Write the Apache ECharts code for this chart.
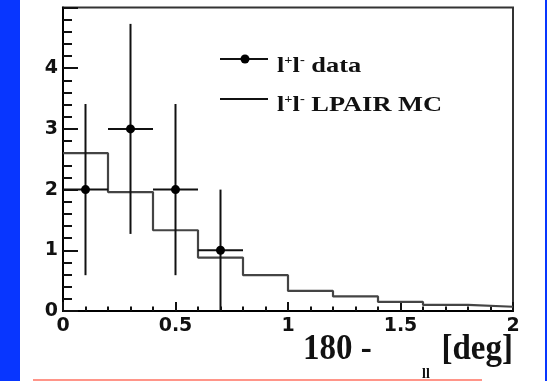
<!DOCTYPE html>
<html><head><meta charset="utf-8">
<script src="https://cdn.jsdelivr.net/npm/echarts@6/dist/echarts.min.js"></script>
<style>html,body{margin:0;padding:0;background:#fff}#c{width:547px;height:381px}</style>
</head><body><div id="c"></div>
<script>
// MC histogram (bin edges + contents)
const binEdges = [0, 0.2, 0.4, 0.6, 0.8, 1.0, 1.2, 1.4, 1.6, 1.8, 2.0];
const mcValues = [2.60, 1.96, 1.33, 0.88, 0.59, 0.33, 0.24, 0.15, 0.10, 0.07];
// data points
const dataX = [0.1, 0.3, 0.5, 0.7];
const dataY = [2, 3, 2, 1];
const dataXErr = [0.1, 0.1, 0.1, 0.1];
const dataYErr = [1.41, 1.73, 1.41, 1.0];
// axes
const xMin = 0, xMax = 2, xStep = 0.5;
const yMin = 0, yMax = 5, yStep = 1;
const legendLabels = ['data', 'LPAIR MC'];

const mcStep = mcValues.map((v, i) => [binEdges[i], v]);
mcStep.push([binEdges[binEdges.length - 1], mcValues[mcValues.length - 1]]);
const pts = dataX.map((x, i) => [x, dataY[i], dataXErr[i], dataYErr[i]]);

const serif = 'Liberation Serif';
const sans = 'DejaVu Sans';
const legRich = {
  m: {fontFamily: serif, fontWeight: 'bold', fontSize: 22, fill: '#111', verticalAlign: 'bottom'},
  s: {fontFamily: serif, fontWeight: 'bold', fontSize: 12, fill: '#111', verticalAlign: 'top'}
};
const chart = echarts.init(document.getElementById('c'), null, {renderer: 'canvas'});
chart.setOption({
  animation: false,
  backgroundColor: '#fff',
  grid: {left: 63, right: 34, top: 7.5, bottom: 70, show: true, borderColor: '#333', borderWidth: 2, backgroundColor: 'transparent'},
  xAxis: {
    type: 'value', min: xMin, max: xMax, interval: xStep,
    axisLine: {show: true, onZero: false, lineStyle: {color: '#000', width: 2}},
    axisTick: {show: true, inside: true, length: 9, lineStyle: {color: '#111', width: 2}},
    minorTick: {show: true, splitNumber: 5, length: 4.5, lineStyle: {color: '#111', width: 2}},
    splitLine: {show: false},
    axisLabel: {margin: 6, color: '#111', fontFamily: sans, fontWeight: 'bold', fontSize: 19}
  },
  yAxis: {
    type: 'value', min: yMin, max: yMax, interval: yStep,
    axisLine: {show: true, onZero: false, lineStyle: {color: '#000', width: 2}},
    axisTick: {show: true, inside: true, length: 15, lineStyle: {color: '#111', width: 2}},
    minorTick: {show: true, splitNumber: 5, length: 9, lineStyle: {color: '#111', width: 2}},
    splitLine: {show: false},
    axisLabel: {margin: 5, showMaxLabel: false, color: '#111', fontFamily: sans, fontWeight: 'bold', fontSize: 19, padding: [7, 0, 0, 0]}
  },
  series: [
    {
      type: 'line', name: legendLabels[1], step: 'end', data: mcStep, symbol: 'none',
      lineStyle: {color: '#444', width: 2.2}, z: 2
    },
    {
      type: 'custom', name: legendLabels[0], data: pts, z: 3,
      renderItem: function (params, api) {
        const x = api.value(0), y = api.value(1), ex = api.value(2), ey = api.value(3);
        const c = api.coord([x, y]);
        const l = api.coord([x - ex, y]), r = api.coord([x + ex, y]);
        const t = api.coord([x, y + ey]), b = api.coord([x, Math.max(0, y - ey)]);
        return {type: 'group', children: [
          {type: 'line', shape: {x1: l[0], y1: l[1], x2: r[0], y2: r[1]}, style: {stroke: '#111', lineWidth: 2}},
          {type: 'line', shape: {x1: t[0], y1: t[1], x2: b[0], y2: b[1]}, style: {stroke: '#111', lineWidth: 2}},
          {type: 'circle', shape: {cx: c[0], cy: c[1], r: 4.5}, style: {fill: '#000'}}
        ]};
      }
    }
  ],
  graphic: [
    {type: 'rect', left: 0, top: 0, shape: {width: 20, height: 381}, style: {fill: '#0836ff'}, silent: true},
    {type: 'rect', left: 545, top: 0, shape: {width: 2, height: 381}, style: {fill: '#0836ff'}, silent: true},
    {type: 'line', shape: {x1: 33, y1: 380, x2: 482, y2: 380}, style: {stroke: '#ff7262', lineWidth: 1.5}, silent: true},
    // legend
    {type: 'line', shape: {x1: 220, y1: 59, x2: 268, y2: 59}, style: {stroke: '#111', lineWidth: 2}},
    {type: 'circle', shape: {cx: 245, cy: 59, r: 4.5}, style: {fill: '#000'}},
    {type: 'line', shape: {x1: 220, y1: 99, x2: 268, y2: 99}, style: {stroke: '#111', lineWidth: 2}},
    {type: 'text', x: 277, y: 66, scaleX: 1.2, style: {
      text: '{m|l}{s|+}{m|l}{s|-}{m| ' + legendLabels[0] + '}', verticalAlign: 'middle', align: 'left', rich: legRich}},
    {type: 'text', x: 277, y: 105, scaleX: 1.2, style: {
      text: '{m|l}{s|+}{m|l}{s|-}{m| ' + legendLabels[1] + '}', verticalAlign: 'middle', align: 'left', rich: legRich}},
    // axis title
    {type: 'text', x: 303, y: 350, scaleY: 1.06, style: {text: '180 -', font: 'bold 33px "Liberation Serif"', fill: '#111', align: 'left', verticalAlign: 'middle'}},
    {type: 'text', x: 426, y: 374, style: {text: 'll', font: 'bold 14px "Liberation Serif"', fill: '#111', align: 'center', verticalAlign: 'middle'}},
    {type: 'text', x: 513, y: 350, scaleY: 1.06, style: {text: '[deg]', font: 'bold 33px "Liberation Serif"', fill: '#111', align: 'right', verticalAlign: 'middle'}}
  ]
});
</script></body></html>
